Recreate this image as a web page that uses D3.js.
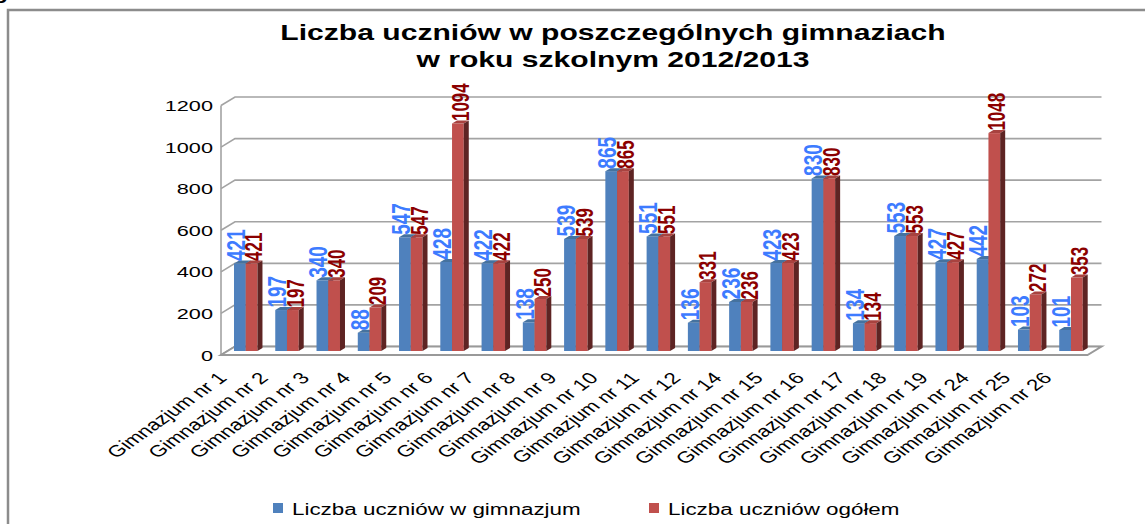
<!DOCTYPE html>
<html>
<head>
<meta charset="utf-8">
<script src="https://cdn.jsdelivr.net/npm/d3@7"></script>
<style>
  body { margin: 0; background: #fff; }
  text { font-family: "Liberation Sans", Arial, sans-serif; }
</style>
</head>
<body>
<script>
// dane
const schools = ["Gimnazjum nr 1", "Gimnazjum nr 2", "Gimnazjum nr 3", "Gimnazjum nr 4",
  "Gimnazjum nr 5", "Gimnazjum nr 6", "Gimnazjum nr 7", "Gimnazjum nr 8", "Gimnazjum nr 9",
  "Gimnazjum nr 10", "Gimnazjum nr 11", "Gimnazjum nr 12", "Gimnazjum nr 14", "Gimnazjum nr 15",
  "Gimnazjum nr 16", "Gimnazjum nr 17", "Gimnazjum nr 18", "Gimnazjum nr 19", "Gimnazjum nr 24",
  "Gimnazjum nr 25", "Gimnazjum nr 26"];
const inGim  = [421, 197, 340, 88, 547, 428, 422, 138, 539, 865, 551, 136, 236, 423, 830, 134, 553, 427, 442, 103, 101];
const total  = [421, 197, 340, 209, 547, 1094, 422, 250, 539, 865, 551, 331, 236, 423, 830, 134, 553, 427, 1048, 272, 353];
const yTicks = [0, 200, 400, 600, 800, 1000, 1200];
const seriesNames = ["Liczba uczniów w gimnazjum", "Liczba uczniów ogółem"];
const titleLines = ["Liczba uczniów w poszczególnych gimnaziach", "w roku szkolnym 2012/2013"];

const width = 1145, height = 524;
const S = 1.4;               // obraz jest rozciągnięty w poziomie
const ix = px => px / S;

const svg = d3.select("body").append("svg")
  .attr("width", width)
  .attr("height", height);

const g = svg.append("g").attr("transform", `scale(${S},1)`);

// ramka
g.append("path")
  .attr("d", `M${ix(8)},${height} V10 H${ix(1150)}`)
  .attr("fill", "none")
  .attr("stroke", "#8c8c8c")
  .attr("stroke-width", 2.5)
  .attr("vector-effect", "non-scaling-stroke");

// resztka tekstu nad wykresem
g.append("text")
  .attr("x", ix(-2)).attr("y", -1)
  .attr("font-size", 18).attr("font-weight", "bold")
  .text("y");

// tytuł
g.selectAll(".title")
  .data(titleLines)
  .enter().append("text")
  .attr("class", "title")
  .attr("x", ix(613))
  .attr("y", (d, i) => 40 + i * 27.5)
  .attr("text-anchor", "middle")
  .attr("font-size", 21.5)
  .attr("font-weight", "bold")
  .text(d => d);

// geometria 3D
const FX0 = 221, FX1 = 1087.5, DX = 14, DY = 8.5;
const yFront = d3.scaleLinear().domain([0, 1200]).range([355, 105.5]);
const yBack = v => yFront(v) - DY;
const yBar = v => yFront(v) - 4;

const x = d3.scaleBand()
  .domain(schools)
  .range([ix(FX0 + 6.6), ix(FX1 + 6.6)])
  .paddingInner(0.31)
  .paddingOuter(0.155);
const side = ix(5), rise = 3;
const xs = d3.scaleBand().domain(["g", "o"]).range([0, x.bandwidth() - side]);

// siatka
const gridColor = "#a3a3a3";
g.selectAll(".grid")
  .data(yTicks)
  .enter().append("path")
  .attr("class", "grid")
  .attr("d", d => `M${ix(FX0)},${yFront(d)} L${ix(FX0 + DX)},${yBack(d)} H${ix(FX1 + DX)}`)
  .attr("fill", "none")
  .attr("stroke", gridColor)
  .attr("stroke-width", 1.6)
  .attr("vector-effect", "non-scaling-stroke");

g.append("line")
  .attr("x1", ix(FX0)).attr("x2", ix(FX0))
  .attr("y1", yFront(1200)).attr("y2", yFront(0))
  .attr("stroke", gridColor)
  .attr("stroke-width", 1.6)
  .attr("vector-effect", "non-scaling-stroke");

// podłoga
g.append("path")
  .attr("d", `M${ix(FX0)},${yFront(0)} H${ix(FX1)} L${ix(FX1 + DX)},${yBack(0)} H${ix(FX0 + DX)} Z`)
  .attr("fill", "#fff")
  .attr("stroke", "#999")
  .attr("stroke-width", 2)
  .attr("vector-effect", "non-scaling-stroke");

g.selectAll(".ytick")
  .data(yTicks)
  .enter().append("text")
  .attr("class", "ytick")
  .attr("x", ix(213))
  .attr("y", d => yFront(d))
  .attr("dy", "0.36em")
  .attr("text-anchor", "end")
  .attr("font-size", 15.5)
  .text(d => d);

// słupki
const series = [
  { key: "g", values: inGim, front: "#4f81bd", top: "#45729f", side: "#2f4f78", label: "#3d7bff", fs: 19 },
  { key: "o", values: total, front: "#c0504d", top: "#a8423f", side: "#5e2423", label: "#8b0000", fs: 17 }
];

series.forEach(s => {
  const bars = g.append("g").selectAll("g")
    .data(schools.map((c, i) => ({ c, v: s.values[i] })))
    .enter().append("g");

  const bx = d => x(d.c) + xs(s.key);
  const bw = xs.bandwidth();

  bars.append("rect")
    .attr("x", d => bx(d))
    .attr("y", d => yBar(d.v))
    .attr("width", bw)
    .attr("height", d => yBar(0) - yBar(d.v))
    .attr("fill", s.front);

  bars.append("path")
    .attr("d", d => `M${bx(d)},${yBar(d.v)} h${bw} l${side},${-rise} h${-bw} Z`)
    .attr("fill", s.top);

  bars.append("path")
    .attr("d", d => `M${bx(d) + bw},${yBar(d.v)} l${side},${-rise} V${yBar(0) - rise} L${bx(d) + bw},${yBar(0)} Z`)
    .attr("fill", s.side);
});

// etykiety wartości
series.forEach(s => {
  g.append("g").selectAll("text")
    .data(schools.map((c, i) => ({ c, v: s.values[i] })))
    .enter().append("text")
    .attr("transform", d => {
      const ax = x(d.c) + xs(s.key) + xs.bandwidth() + (s.key === "o" ? side : ix(-1));
      return `translate(${ax},${yBar(d.v) - 2.5}) rotate(-90)`;
    })
    .attr("font-size", s.fs)
    .attr("font-weight", "bold")
    .attr("fill", s.label)
    .text(d => d.v);
});

// etykiety osi X
g.selectAll(".xlab")
  .data(schools)
  .enter().append("text")
  .attr("class", "xlab")
  .attr("transform", d => `translate(${x(d) + x.bandwidth() / 2 - ix(26)},375) rotate(-45)`)
  .attr("dy", "0.36em")
  .attr("text-anchor", "end")
  .attr("font-size", 16)
  .text(d => d);

// legenda
const legX = [273, 649];
const leg = g.selectAll(".leg")
  .data(series)
  .enter().append("g")
  .attr("class", "leg");

leg.append("rect")
  .attr("x", (d, i) => ix(legX[i]))
  .attr("y", 503)
  .attr("width", ix(10))
  .attr("height", 10)
  .attr("fill", d => d.front);

leg.append("text")
  .attr("x", (d, i) => ix(legX[i] + 19))
  .attr("y", 515)
  .attr("font-size", 16)
  .text((d, i) => seriesNames[i]);
</script>
</body>
</html>
